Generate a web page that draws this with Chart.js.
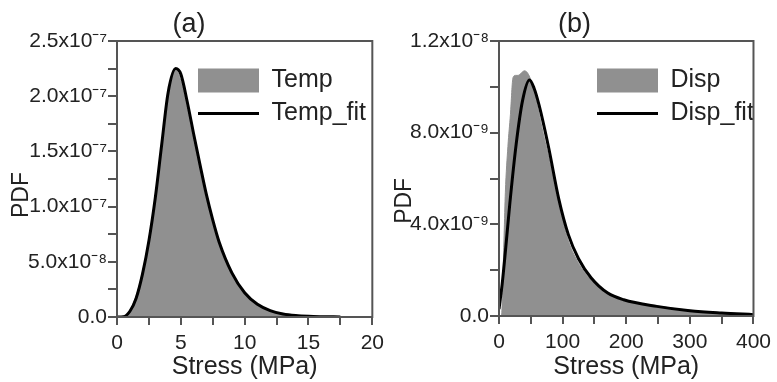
<!DOCTYPE html>
<html>
<head>
<meta charset="utf-8">
<script src="https://cdn.jsdelivr.net/npm/chart.js@4/dist/chart.umd.min.js"></script>
<style>
  html, body { margin: 0; padding: 0; background: #fff; }
  #wrap { position: relative; width: 777px; height: 382px; }
  #chartA { position: absolute; left: 0; top: 0; }
  #chartB { position: absolute; left: 390px; top: 0; }
</style>
</head>
<body>
<div id="wrap">
  <canvas id="chartA" width="390" height="382"></canvas>
  <canvas id="chartB" width="387" height="382"></canvas>
</div>
<script>
// (a) temperature case: histogram + fitted curve, stress in MPa
const tempX = [0, 0.5, 1, 1.5, 2, 2.5, 3, 3.5, 4, 4.6, 5, 5.5, 6, 6.5, 7, 7.5, 8, 9, 10, 11, 12, 13, 14, 15, 16, 17.5];
const tempHist = [0, 0.004e-7, 0.06e-7, 0.19e-7, 0.41e-7, 0.71e-7, 1.10e-7, 1.58e-7, 2.04e-7, 2.24e-7, 2.14e-7, 1.88e-7, 1.59e-7,
  1.32e-7, 1.07e-7, 0.85e-7, 0.66e-7, 0.39e-7, 0.215e-7, 0.113e-7, 0.057e-7, 0.028e-7, 0.013e-7, 0.006e-7, 0.003e-7, 0.001e-7];
const tempFit = [0, 0.003e-7, 0.05e-7, 0.17e-7, 0.39e-7, 0.69e-7, 1.08e-7, 1.56e-7, 2.03e-7, 2.25e-7, 2.20e-7, 1.95e-7, 1.66e-7,
  1.38e-7, 1.11e-7, 0.88e-7, 0.68e-7, 0.40e-7, 0.22e-7, 0.115e-7, 0.058e-7, 0.028e-7, 0.013e-7, 0.006e-7, 0.003e-7, 0.001e-7];

// (b) displacement case
const dispHistX = [0, 4, 6, 8, 10, 14, 18, 22, 26, 30, 35, 40, 45, 50, 55, 60, 70, 80, 90, 100, 110, 125, 145, 170, 200, 250, 300, 350, 400];
const dispHist = [0, 0, 1.5e-9, 3.5e-9, 5.4e-9, 7.4e-9, 8.8e-9, 10.4e-9, 10.5e-9, 10.5e-9, 10.6e-9, 10.7e-9, 10.6e-9, 10.3e-9,
  9.8e-9, 9.2e-9, 7.9e-9, 6.7e-9, 5.3e-9, 4.15e-9, 3.2e-9, 2.3e-9, 1.55e-9, 0.98e-9, 0.68e-9, 0.43e-9, 0.25e-9, 0.14e-9, 0.08e-9];
const dispFitX = [0, 5, 10, 17, 27, 37, 48, 55, 63, 78, 94, 109, 125, 145, 171, 196, 248, 300, 350, 400];
const dispFit = [0.3e-9, 1.4e-9, 2.8e-9, 4.9e-9, 7.5e-9, 9.4e-9, 10.3e-9, 9.95e-9, 9.2e-9, 7.35e-9, 5.1e-9, 3.55e-9, 2.5e-9,
  1.66e-9, 1.0e-9, 0.71e-9, 0.42e-9, 0.23e-9, 0.13e-9, 0.06e-9];

const panelTitles = ['(a)', '(b)'];
const seriesNames = [['Temp', 'Temp_fit'], ['Disp', 'Disp_fit']];
const xLabel = 'Stress (MPa)';
const yLabel = 'PDF';

const FONT = "'Liberation Sans', Arial, sans-serif";
const INK = '#222';
const AXIS = '#555';
const GRAY = '#909090';

const sup = { '-': '\u207b', '0': '\u2070', '7': '\u2077', '8': '\u2078', '9': '\u2079' };

function isMultiple(v, step) {
  const r = v / step;
  return Math.abs(r - Math.round(r)) < 1e-6;
}

function sciLabel(v) {
  if (Math.abs(v) < 1e-20) return '0.0';
  const e = Math.floor(Math.log10(v) + 1e-9);
  const m = v / Math.pow(10, e);
  const ex = String(e).split('').map(c => sup[c] || c).join('');
  return m.toFixed(1) + 'x10' + ex;
}

function toPoints(xs, ys) {
  return xs.map((x, i) => ({ x: x, y: ys[i] }));
}

// box round the plot area
const framePlugin = {
  id: 'frame',
  afterDatasetsDraw(chart) {
    const a = chart.chartArea;
    const ctx = chart.ctx;
    ctx.save();
    ctx.strokeStyle = AXIS;
    ctx.lineWidth = 2;
    ctx.strokeRect(a.left, a.top, a.right - a.left, a.bottom - a.top);
    ctx.restore();
  }
};

// put the legend inside the plot, top right
const legendSpot = {
  id: 'legendSpot',
  afterLayout(chart, args, opts) {
    const lg = chart.legend;
    const pad = chart.options.plugins.legend.labels.padding;
    lg.left = opts.x - pad;
    lg.top = opts.y - pad;
    lg.right = chart.width;
    lg.bottom = chart.height;
  }
};

function makePanel(canvasId, o) {
  const nbsp = '\u00a0'.repeat(o.yTitleShift);
  return new Chart(document.getElementById(canvasId), {
    type: 'line',
    data: {
      datasets: [
        {
          label: o.names[0],
          data: toPoints(o.histX, o.hist),
          fill: 'origin',
          backgroundColor: GRAY,
          borderColor: GRAY,
          borderWidth: 1,
          pointRadius: 0,
          pointStyle: 'rect',
          pointBorderWidth: 0,
          cubicInterpolationMode: 'monotone',
          order: 2
        },
        {
          label: o.names[1],
          data: toPoints(o.fitX, o.fit),
          fill: false,
          backgroundColor: '#000',
          borderColor: '#000',
          borderWidth: 3,
          pointRadius: 0,
          pointStyle: 'line',
          pointBorderWidth: 3,
          cubicInterpolationMode: 'monotone',
          order: 1
        }
      ]
    },
    options: {
      responsive: false,
      animation: false,
      devicePixelRatio: 1,
      layout: { padding: { left: 0, right: o.padRight, top: 0, bottom: 0 } },
      plugins: {
        title: {
          display: true,
          text: o.title,
          color: INK,
          font: { family: FONT, size: 27, weight: 'normal' },
          padding: { top: 8, bottom: 0.6 }
        },
        legend: {
          position: 'chartArea',
          align: 'start',
          labels: {
            usePointStyle: true,
            pointStyleWidth: 61,
            boxWidth: 61,
            boxHeight: 24,
            padding: 8,
            color: INK,
            font: { family: FONT, size: 25 },
            sort: (a, b) => a.datasetIndex - b.datasetIndex
          }
        },
        legendSpot: { x: o.legendX, y: 68 },
        tooltip: { enabled: false }
      },
      scales: {
        x: {
          type: 'linear',
          min: 0,
          max: o.xMax,
          grid: { drawOnChartArea: false, drawTicks: true, tickLength: 8, color: AXIS, lineWidth: 2 },
          border: { display: true, color: AXIS, width: 2 },
          ticks: {
            stepSize: o.xStep,
            autoSkip: false,
            maxRotation: 0,
            padding: 6,
            color: INK,
            font: { family: FONT, size: 21 },
            callback: v => isMultiple(v, o.xStep * 2) ? String(v) : ''
          },
          title: {
            display: true,
            text: xLabel,
            color: INK,
            font: { family: FONT, size: 25 },
            padding: { top: 0, bottom: 0 }
          },
          afterFit: s => { s.height = o.xAxisH; }
        },
        y: {
          min: 0,
          max: o.yMax,
          grid: { drawOnChartArea: false, drawTicks: true, tickLength: 9, color: AXIS, lineWidth: 2 },
          border: { display: true, color: AXIS, width: 2 },
          ticks: {
            stepSize: o.yStep,
            autoSkip: false,
            padding: 1,
            color: INK,
            font: { family: FONT, size: 21 },
            callback: v => isMultiple(v, o.yStep * 2) ? sciLabel(v) : ''
          },
          title: {
            display: true,
            text: yLabel + nbsp,
            color: INK,
            font: { family: FONT, size: 23 },
            padding: { top: o.yTitlePad, bottom: 0 }
          },
          afterFit: s => { s.width = o.yAxisW; }
        }
      }
    },
    plugins: [framePlugin, legendSpot]
  });
}

makePanel('chartA', {
  title: panelTitles[0], names: seriesNames[0],
  histX: tempX, hist: tempHist, fitX: tempX, fit: tempFit,
  xMax: 20, xStep: 2.5, yMax: 2.5e-7, yStep: 2.5e-8,
  yAxisW: 117, xAxisH: 65, padRight: 12, yTitlePad: 8, yTitleShift: 5, legendX: 198
});

makePanel('chartB', {
  title: panelTitles[1], names: seriesNames[1],
  histX: dispHistX, hist: dispHist, fitX: dispFitX, fit: dispFit,
  xMax: 400, xStep: 50, yMax: 1.2e-8, yStep: 2e-9,
  yAxisW: 109, xAxisH: 66, padRight: 18, yTitlePad: 1, yTitleShift: 7, legendX: 207
});
</script>
</body>
</html>
